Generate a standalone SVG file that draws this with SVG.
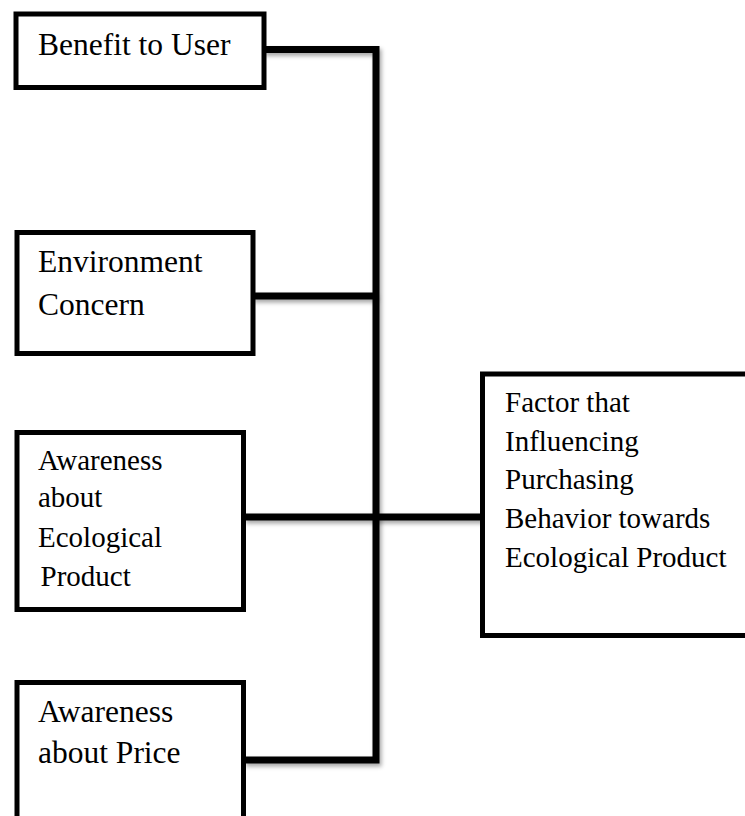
<svg xmlns="http://www.w3.org/2000/svg" width="745" height="816" viewBox="0 0 745 816">
<defs>
<filter id="sh" filterUnits="userSpaceOnUse" x="0" y="0" width="745" height="816">
<feDropShadow dx="2" dy="3" stdDeviation="2" flood-color="#000" flood-opacity="0.35"/>
</filter>
<style>
.box{fill:#fff;stroke:#000;stroke-width:5}
.t{font-family:"Liberation Serif","Times New Roman",serif;fill:#000}
.lg{font-size:31.5px}
.sm{font-size:29px}
.c{fill:none;stroke:#000;stroke-width:7;stroke-linejoin:miter;filter:url(#sh)}
</style>
</defs>
<rect width="745" height="816" fill="#fff"/>
<g id="connectors">
<path class="c" d="M263 49.5 H376 V760 H244"/>
<path class="c" d="M252 296 H376"/>
<path class="c" d="M244 517 H483"/>
</g>
<g id="benefit">
<rect class="box" x="16" y="14" width="248" height="73.5"/>
<text class="t lg" x="38" y="55">Benefit to User</text>
</g>
<g id="environment">
<rect class="box" x="17" y="232.5" width="236" height="121"/>
<text class="t lg" x="38" y="272">Environment</text>
<text class="t lg" x="38" y="315">Concern</text>
</g>
<g id="awareness-eco">
<rect class="box" x="17" y="432.5" width="226.5" height="177"/>
<text class="t sm" x="38" y="470">Awareness</text>
<text class="t sm" x="38" y="507">about</text>
<text class="t sm" x="38" y="547">Ecological</text>
<text class="t sm" x="40.5" y="586">Product</text>
</g>
<g id="awareness-price">
<rect class="box" x="17" y="682.5" width="226.5" height="160"/>
<text class="t lg" x="38" y="722">Awareness</text>
<text class="t lg" x="38" y="763">about Price</text>
</g>
<g id="factor">
<rect class="box" x="482.5" y="374" width="290" height="261.5"/>
<text class="t sm" x="505" y="412">Factor that</text>
<text class="t sm" x="505" y="451">Influencing</text>
<text class="t sm" x="505" y="489">Purchasing</text>
<text class="t sm" x="505" y="528">Behavior towards</text>
<text class="t sm" x="505" y="567">Ecological Product</text>
</g>
</svg>
